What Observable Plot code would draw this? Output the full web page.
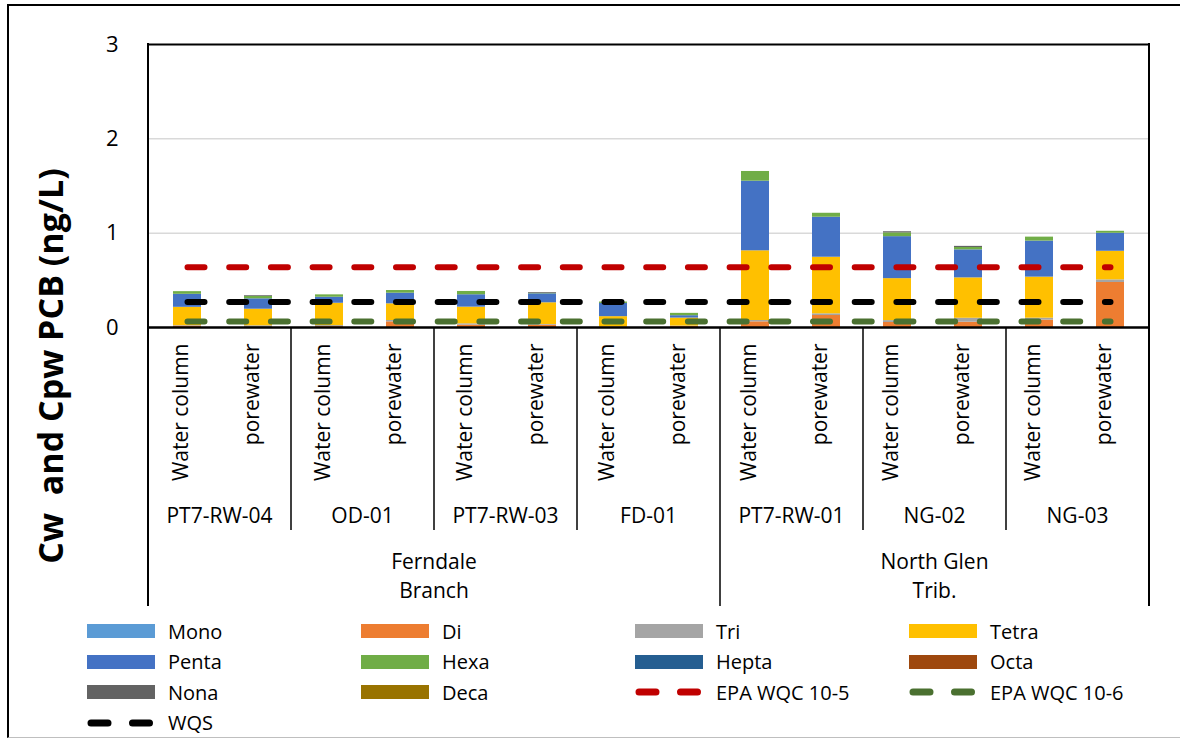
<!DOCTYPE html>
<html><head><meta charset="utf-8">
<script src="https://cdn.jsdelivr.net/npm/d3@7"></script>
<script src="https://cdn.jsdelivr.net/npm/@observablehq/plot@0.6"></script>
<style>
html,body{margin:0;padding:0;width:1180px;height:738px;overflow:hidden;background:#fff;font-family:"Open Sans",sans-serif;color:#000;}
#frame{position:absolute;left:7px;top:4px;width:1200px;height:731px;border-left:2px solid #000;border-top:2px solid #000;border-bottom:1px solid #bfbfbf;}
#chart{position:absolute;left:0;top:0;}
#ytitle{position:absolute;left:50px;top:366px;transform:translate(-50%,-50%) rotate(-90deg);white-space:pre;font-weight:700;font-size:34px;line-height:1;}
.li{position:absolute;height:30px;display:flex;align-items:center;font-size:20px;white-space:nowrap;}
.sw{width:68px;height:14px;margin-right:13px;flex:none;}
.ln{width:68px;height:10px;margin-right:13px;flex:none;}
</style></head><body>
<div id="frame"></div>
<div id="chart"></div>
<div id="ytitle">Cw  and Cpw PCB (ng/L)</div>
<div id="legend"></div>
<script>
// ---- data ----
const waterbodies = ["Ferndale\nBranch","Ferndale\nBranch","Ferndale\nBranch","Ferndale\nBranch","Ferndale\nBranch","Ferndale\nBranch","Ferndale\nBranch","Ferndale\nBranch","North Glen\nTrib.","North Glen\nTrib.","North Glen\nTrib.","North Glen\nTrib.","North Glen\nTrib.","North Glen\nTrib."];
const sites = ["PT7-RW-04","PT7-RW-04","OD-01","OD-01","PT7-RW-03","PT7-RW-03","FD-01","FD-01","PT7-RW-01","PT7-RW-01","NG-02","NG-02","NG-03","NG-03"];
const sampleTypes = ["Water column","porewater","Water column","porewater","Water column","porewater","Water column","porewater","Water column","porewater","Water column","porewater","Water column","porewater"];
const homologs = ["Mono","Di","Tri","Tetra","Penta","Hexa","Hepta","Octa","Nona","Deca"];
const mono  = [0,0,0,0,0,0,0,0,0,0,0,0,0,0];
const di    = [0.015,0,0.010,0.060,0.025,0.025,0.003,0.011,0.060,0.127,0.053,0.056,0.078,0.477];
const tri   = [0.005,0.018,0.010,0.014,0.014,0.007,0.002,0.004,0.014,0.018,0.020,0.042,0.021,0.028];
const tetra = [0.194,0.176,0.237,0.177,0.177,0.230,0.110,0.085,0.739,0.600,0.445,0.428,0.435,0.303];
const penta = [0.138,0.110,0.064,0.113,0.131,0.095,0.140,0.025,0.738,0.424,0.445,0.297,0.382,0.191];
const hexa  = [0.028,0.025,0.025,0.028,0.035,0.006,0.015,0.025,0.103,0.042,0.040,0.025,0.042,0.021];
const hepta = [0,0,0,0,0,0,0,0,0,0,0,0,0,0];
const octa  = [0,0,0,0,0,0,0,0,0,0,0,0,0,0];
const nona  = [0,0.008,0,0,0,0.008,0,0,0,0,0.012,0.012,0,0];
const deca  = [0,0,0,0,0,0,0,0,0,0,0,0,0,0];
const criteriaNames  = ["EPA WQC 10-5","EPA WQC 10-6","WQS"];
const criteriaValues = [0.64,0.064,0.27];
const yTicks = [0,1,2,3];

// ---- styles ----
const homologColors = ["#5B9BD5","#ED7D31","#A5A5A5","#FFC000","#4472C4","#70AD47","#255E91","#9E480E","#636363","#997300"];
const criteriaColors = ["#C00000","#4A7030","#000000"];

const series = [mono,di,tri,tetra,penta,hexa,hepta,octa,nona,deca];
const keys = sites.map((s,i) => s + "|" + sampleTypes[i]);
const rows = [];
keys.forEach((k,i) => homologs.forEach((h,j) => rows.push({key:k, homolog:h, value:series[j][i]})));
const critRows = [];
criteriaNames.forEach((n,j) => keys.forEach(k => critRows.push({key:k, name:n, value:criteriaValues[j]})));

const W = 1180, H = 612, mL = 148, mR = 31, mT = 44, mB = 285;
const plot = Plot.plot({
  width: W, height: H,
  marginLeft: mL, marginRight: mR, marginTop: mT, marginBottom: mB,
  style: {background: "transparent", fontFamily: "'Open Sans', sans-serif", fontSize: "22px", color: "#000", overflow: "visible"},
  x: {domain: keys, paddingInner: 0.6, paddingOuter: 0.3, axis: null},
  y: {domain: [0,3], ticks: yTicks, tickSize: 0, tickPadding: 30, label: null, tickFormat: d => String(d)},
  color: {domain: homologs, range: homologColors},
  marks: [
    Plot.ruleY([1,2], {stroke: "#d9d9d9", strokeWidth: 1.5}),
    Plot.barY(rows, {x: "key", y: "value", fill: "homolog"}),
    ...criteriaNames.map((n,j) => Plot.lineY(critRows.filter(d => d.name === n), {
      x: "key", y: "value", stroke: criteriaColors[j], strokeWidth: 6,
      strokeDasharray: "17,24.7", strokeLinecap: "round"})),
    Plot.ruleY([3], {stroke: "#000", strokeWidth: 2}),
    Plot.ruleY([0], {stroke: "#000", strokeWidth: 2.5}),
    Plot.text(keys, {x: d => d, text: (d,i) => sampleTypes[i], rotate: -90, textAnchor: "end",
      frameAnchor: "bottom", dy: 16, fontSize: 21, fill: "#000"})
  ]
});
document.getElementById("chart").appendChild(plot);

// multi-level category axis decorations from the plot's x scale
const xs = plot.scale("x");
const xb = d3.scaleBand().domain(xs.domain).range(xs.range)
  .paddingInner(xs.paddingInner ?? 0.6).paddingOuter(xs.paddingOuter ?? 0.3).align(xs.align ?? 0.5);
const gap = xb.step() - xb.bandwidth();
const edge = i => i < keys.length ? xb(keys[i]) - gap/2 : xb(keys[keys.length-1]) + xb.bandwidth() + gap/2;
const svg = d3.select(plot);
const g = svg.append("g");
const yBottom = H - mB;
const siteStarts = [], groupStarts = [];
keys.forEach((k,i) => { if (i === 0 || sites[i] !== sites[i-1]) siteStarts.push(i); if (i === 0 || waterbodies[i] !== waterbodies[i-1]) groupStarts.push(i); });
const siteEdges = [...siteStarts, keys.length];
const groupEdges = [...groupStarts, keys.length];
siteEdges.forEach(i => {
  if (groupEdges.includes(i)) return;
  g.append("line").attr("x1", edge(i)).attr("x2", edge(i)).attr("y1", yBottom).attr("y2", 530).attr("stroke", "#000").attr("stroke-width", 1.5);
});
groupEdges.forEach(i => {
  const outer = (i === 0 || i === keys.length);
  g.append("line").attr("x1", edge(i)).attr("x2", edge(i)).attr("y1", outer ? mT - 1 : yBottom).attr("y2", 606).attr("stroke", "#000").attr("stroke-width", outer ? 2 : 1.5);
});
siteStarts.forEach((s,j) => {
  const e = siteEdges[j+1];
  g.append("text").attr("x", (edge(s)+edge(e))/2).attr("y", 516).attr("dy", "0.35em")
    .attr("text-anchor", "middle").attr("font-size", 21).attr("fill", "#000").text(sites[s]);
});
groupStarts.forEach((s,j) => {
  const e = groupEdges[j+1];
  const lines = waterbodies[s].split("\n");
  lines.forEach((t,li) => g.append("text").attr("x", (edge(s)+edge(e))/2).attr("y", 562 + li*29).attr("dy", "0.35em")
    .attr("text-anchor", "middle").attr("font-size", 21).attr("fill", "#000").text(t));
});

// legend
const legendItems = homologs.map((h,i) => ({name:h, color:homologColors[i], type:"swatch"}))
  .concat(criteriaNames.map((n,i) => ({name:n, color:criteriaColors[i], type:"line"})));
const leg = document.getElementById("legend");
legendItems.forEach((it,i) => {
  const col = i % 4, row = Math.floor(i / 4);
  const d = document.createElement("div");
  d.className = "li";
  d.style.left = (87 + col*274) + "px";
  d.style.top = (616 + row*30.5) + "px";
  if (it.type === "swatch") {
    d.innerHTML = `<div class="sw" style="background:${it.color}"></div><span>${it.name}</span>`;
  } else {
    d.innerHTML = `<svg class="ln" width="68" height="10"><line x1="4" x2="64" y1="5" y2="5" stroke="${it.color}" stroke-width="7" stroke-linecap="round" stroke-dasharray="17,24.5"/></svg><span>${it.name}</span>`;
  }
  leg.appendChild(d);
});
</script>
</body></html>
